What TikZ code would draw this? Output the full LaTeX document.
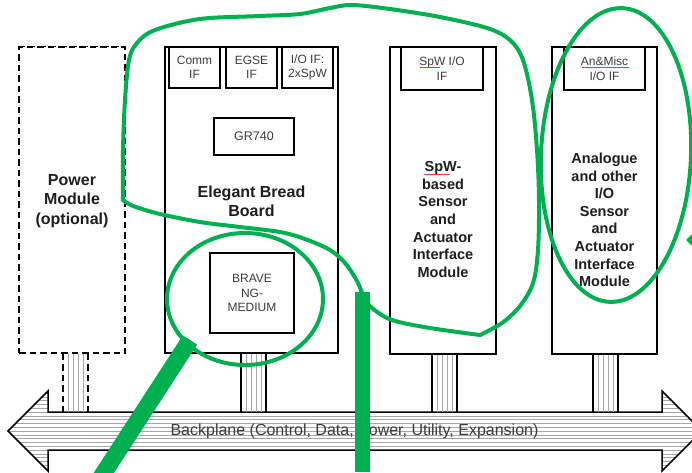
\documentclass[tikz,border=0pt]{standalone}
\usepackage{fontspec}
\setmainfont{Liberation Sans}
\usetikzlibrary{calc}
\definecolor{markgreen}{RGB}{0,176,80}
\definecolor{ink}{RGB}{30,30,30}
\definecolor{inkl}{RGB}{60,60,60}
\definecolor{spell}{RGB}{230,60,60}

\tikzset{
  box/.style={draw=black, line width=1.5pt, fill=white, inner sep=0pt, align=center},
  dbox/.style={box, dash pattern=on 6.5pt off 4pt},
  smalltxt/.style={font=\fontsize{12}{14.5}\selectfont, text=inkl},
  bigtxt/.style={font=\bfseries\fontsize{14.5}{17.6}\selectfont, text=ink, align=center, inner sep=0pt},
  hugetxt/.style={font=\bfseries\fontsize{16}{19.5}\selectfont, text=ink, align=center, inner sep=0pt},
  hatch/.style={draw=black!35, line width=0.7pt},
  edge/.style={line width=1.5pt},
  pen/.style={draw=markgreen, line width=4pt, line cap=round, line join=round},
  spellline/.style={draw=spell, line width=0.8pt},
}

% vertical striped stem from a module down to the backplane
\newcommand\stemat[2]{%
  \foreach \dx in {-7.5,-2.5,2.5,7.5}
    \draw[hatch] ($(#1)+(\dx,0)$) -- ($(#1 |- bptop)+(\dx,0)$);
  \draw[edge,#2] ($(#1)+(-12.5,0)$) -- ($(#1 |- bptop)+(-12.5,0)$);
  \draw[edge,#2] ($(#1)+(12.5,0)$) -- ($(#1 |- bptop)+(12.5,0)$);
}

\def\bppath{(48,412) -- (48,391) -- (8,431) -- (48,471) -- (48,450) -- (662,450) -- (662,471) -- (702,431) -- (662,391) -- (662,412) -- cycle}

\begin{document}
\begin{tikzpicture}[x=1pt,y=-1pt]
\useasboundingbox (0,0) rectangle (692,472);
\clip (0,0) rectangle (692,472);
\fill[white] (0,0) rectangle (692,472);

% backplane double arrow with horizontal stripes
\begin{scope}
  \clip \bppath;
  \fill[white] (0,380) rectangle (710,480);
  \foreach \y in {393.2,397,...,472}
    \draw[hatch] (0,\y) -- (710,\y);
\end{scope}
\draw[edge, line join=miter] \bppath;
\coordinate (bptop) at (0,412);
\node[font=\fontsize{16}{19}\selectfont, text=inkl] (bp) at (354.5,431.5)
  {Backplane (Control, Data, Power, Utility, Expansion)};

% modules
\node[dbox, minimum width=106pt, minimum height=306pt] (pwr) at (72,200) {};
\node[box, minimum width=173pt, minimum height=306pt] (ebb) at (251.5,200) {};
\node[box, minimum width=106pt, minimum height=307pt] (spw) at (443,200.5) {};
\node[box, minimum width=105pt, minimum height=307pt] (ana) at (604.5,200.5) {};

% stems
\coordinate (pwrs) at ($(pwr.south)+(3.5,0)$);
\coordinate (ebbs) at ($(ebb.south)+(2,0)$);
\coordinate (spws) at ($(spw.south)+(1.5,0)$);
\coordinate (anas) at ($(ana.south)+(1,0)$);
\stemat{pwrs}{dash pattern=on 6.5pt off 4pt}
\stemat{ebbs}{solid}
\stemat{spws}{solid}
\stemat{anas}{solid}

% interface boxes and chips
\node[box, smalltxt, minimum width=51pt, minimum height=41pt] (comm) at (194.5,67.5) {Comm\\IF};
\node[box, smalltxt, minimum width=51pt, minimum height=41pt] (egse) at (251.5,67.5) {EGSE\\IF};
\node[box, smalltxt, minimum width=51pt, minimum height=41pt] (ioif) at (307.5,67.5) {I/O IF:\\2xSpW};
\node[box, smalltxt, minimum width=80pt, minimum height=37pt, font=\fontsize{12.5}{15}\selectfont] (gr) at (254,136.5) {GR740};
\node[box, smalltxt, minimum width=84pt, minimum height=80pt] (brave) at (252,293) {BRAVE\\NG-\\MEDIUM};
\node[box, smalltxt, minimum width=82pt, minimum height=43pt] (spwif) at (442,68.5) {SpW I/O\\IF};
\node[box, smalltxt, minimum width=81pt, minimum height=43pt] (anaif) at (604.5,68.5) {An\&Misc\\I/O IF};
\draw[edge, dash pattern=on 6.5pt off 4pt] (pwr.north west) -- (pwr.north east);
\draw[edge] (ebb.north west) -- (ebb.north east);
\draw[edge] (spw.north west) -- (spw.north east);
\draw[edge] (ana.north west) -- (ana.north east);

% module titles
\node[hugetxt] (pwrlbl) at (72,201) {Power\\Module\\(optional)};
\node[hugetxt] (ebblbl) at (251.5,201.5) {Elegant Bread\\Board};
\node[bigtxt] (spwlbl) at (443,219.5) {SpW-\\based\\Sensor\\and\\Actuator\\Interface\\Module};
\node[bigtxt] (analbl) at (604.5,220) {Analogue\\and other\\I/O\\Sensor\\and\\Actuator\\Interface\\Module};

% spell-check underlines
\draw[spellline] (420,67) -- (440,67);
\draw[spellline] (582,67.5) -- (629,67.5);
\draw[spellline] (424,174) -- (450,174);

% green annotations
\draw[pen] plot[smooth, tension=0.55] coordinates {
  (123,200) (123,150) (125,100) (129,60) (137,43) (155,30) (200,19) (260,16)
  (300,14) (330,8) (352,5) (390,9) (440,17) (487,28) (510,40) (523,60)
  (532,100) (537,150) (539,200) (538,250) (533,283) (520,306) (502,323) (480,335)};
\draw[pen] plot[smooth, tension=0.55] coordinates {
  (480,335) (430,328) (392,320) (372,308) (364,297) (357,281) (345,263)
  (330,250) (305,239) (280,232) (240,227) (200,222) (160,214) (133,206) (123,200)};
\draw[pen] (245,299) ellipse [x radius=78, y radius=66];
\draw[pen] (616,155) [rotate around={-2.5:(616,155)}] ellipse [x radius=75, y radius=147];
\draw[draw=markgreen, line width=17pt] (190,340) -- (100.5,478);
\fill[markgreen] (355,292) rectangle (370,472);
\fill[markgreen] (686,240) -- (692,234) -- (692,246) -- cycle;
\end{tikzpicture}
\end{document}
